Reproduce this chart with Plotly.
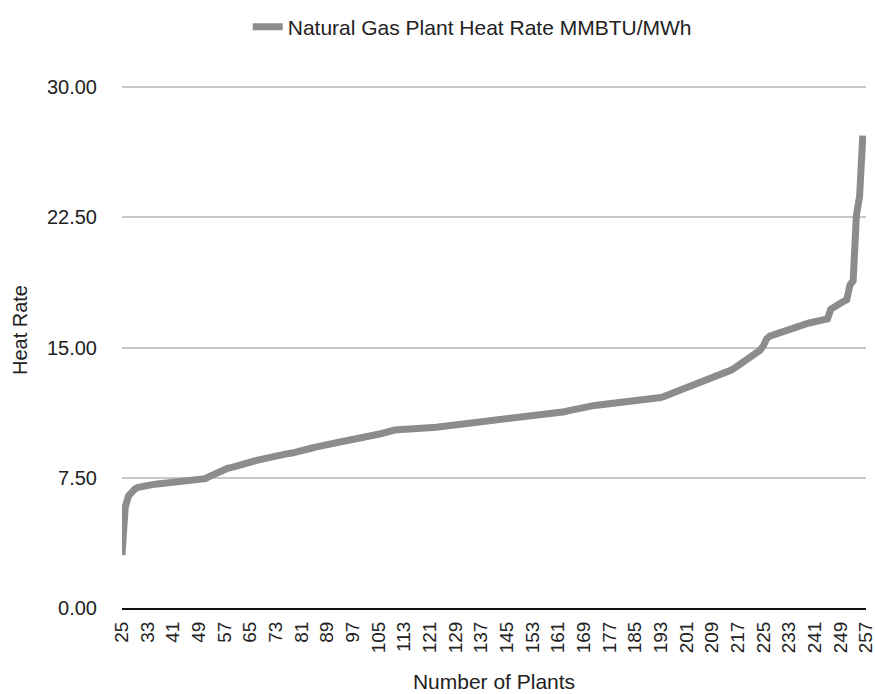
import plotly.graph_objects as go

plants = list(range(25, 258))
heat_rate = [
    3.05, 5.80, 6.45, 6.70, 6.85, 6.95, 7.00, 7.05,
    7.08, 7.10, 7.12, 7.14, 7.16, 7.18, 7.19, 7.20,
    7.22, 7.23, 7.25, 7.26, 7.28, 7.30, 7.32, 7.33,
    7.35, 7.38, 7.45, 7.55, 7.65, 7.72, 7.80, 7.90,
    8.00, 8.05, 8.08, 8.12, 8.20, 8.28, 8.33, 8.38,
    8.42, 8.46, 8.50, 8.55, 8.60, 8.63, 8.67, 8.70,
    8.74, 8.78, 8.85, 8.88, 8.90, 8.92, 8.95, 9.00,
    9.05, 9.10, 9.15, 9.20, 9.25, 9.30, 9.35, 9.38,
    9.42, 9.46, 9.50, 9.53, 9.56, 9.60, 9.63, 9.66,
    9.70, 9.72, 9.75, 9.78, 9.82, 9.85, 9.88, 9.92,
    9.98, 10.05, 10.10, 10.18, 10.22, 10.25, 10.27, 10.29,
    10.30, 10.31, 10.32, 10.33, 10.34, 10.35, 10.36, 10.37,
    10.38, 10.40, 10.41, 10.43, 10.45, 10.46, 10.48, 10.50,
    10.52, 10.55, 10.58, 10.60, 10.62, 10.64, 10.66, 10.68,
    10.70, 10.73, 10.76, 10.80, 10.82, 10.84, 10.86, 10.88,
    10.90, 10.92, 10.94, 10.97, 11.00, 11.02, 11.04, 11.06,
    11.08, 11.10, 11.12, 11.14, 11.16, 11.18, 11.20, 11.23,
    11.25, 11.28, 11.30, 11.35, 11.40, 11.45, 11.48, 11.52,
    11.55, 11.58, 11.62, 11.65, 11.68, 11.70, 11.72, 11.75,
    11.77, 11.80, 11.82, 11.83, 11.85, 11.86, 11.88, 11.90,
    11.91, 11.92, 11.94, 11.95, 11.97, 12.00, 12.03, 12.08,
    12.12, 12.18, 12.25, 12.32, 12.40, 12.48, 12.55, 12.60,
    12.65, 12.72, 12.80, 12.90, 13.00, 13.08, 13.15, 13.20,
    13.25, 13.30, 13.38, 13.45, 13.52, 13.60, 13.70, 13.82,
    13.95, 14.05, 14.15, 14.30, 14.45, 14.55, 14.65, 14.85,
    15.10, 15.50, 15.65, 15.72, 15.80, 15.88, 15.95, 16.02,
    16.08, 16.14, 16.20, 16.25, 16.30, 16.35, 16.40, 16.44,
    16.48, 16.52, 16.56, 16.60, 16.65, 17.20, 17.35, 17.45,
    17.55, 17.65, 17.75, 18.60, 18.85, 22.60, 23.70, 27.20,
]
x_ticks = list(range(25, 258, 8))
y_ticks = [0, 7.5, 15, 22.5, 30]
y_labels = ["%.2f" % v for v in y_ticks]

FONT = "Liberation Sans, Arial, sans-serif"

fig = go.Figure()
fig.add_trace(go.Scatter(
    x=plants, y=heat_rate, mode="lines",
    name="Natural Gas Plant Heat Rate MMBTU/MWh",
    line=dict(color="#8c8c8c", width=7),
))

fig.update_layout(
    width=875, height=694,
    margin=dict(l=122, r=9, t=86, b=86, autoexpand=False),
    paper_bgcolor="white", plot_bgcolor="white",
    font=dict(family=FONT, size=20, color="#222222"),
    showlegend=True,
    legend=dict(orientation="h", x=0.169, xanchor="left", y=1.113, yanchor="middle",
                font=dict(size=21, color="#222222")),
    xaxis=dict(
        range=[25, 257], tickmode="array", tickvals=x_ticks,
        ticktext=[str(v) for v in x_ticks], tickangle=-90,
        ticklabeloverflow="allow",
        showgrid=False, zeroline=False,
        showline=True, linecolor="#111111", linewidth=2,
        ticks="outside", ticklen=4, tickcolor="rgba(0,0,0,0)",
        title=dict(text="Number of Plants", standoff=22, font=dict(size=21)),
        tickfont=dict(size=19), automargin=False,
    ),
    yaxis=dict(
        range=[0, 30.06], tickmode="array", tickvals=y_ticks, ticktext=y_labels,
        showgrid=True, gridcolor="#c8c8c8", gridwidth=1.5,
        zeroline=False, showline=False,
        ticks="outside", ticklen=20, tickcolor="rgba(0,0,0,0)",
        tickfont=dict(size=20), automargin=False,
    ),
    annotations=[dict(
        text="Heat Rate", xref="paper", yref="paper",
        x=-0.137, y=0.5326, xanchor="center", yanchor="middle",
        textangle=-90, showarrow=False, font=dict(size=20, color="#222222"),
    )],
)

fig.write_html(
    "out.html",
    config={"displayModeBar": False},
    post_script="document.body.style.margin='0';document.body.style.overflow='hidden';",
)
